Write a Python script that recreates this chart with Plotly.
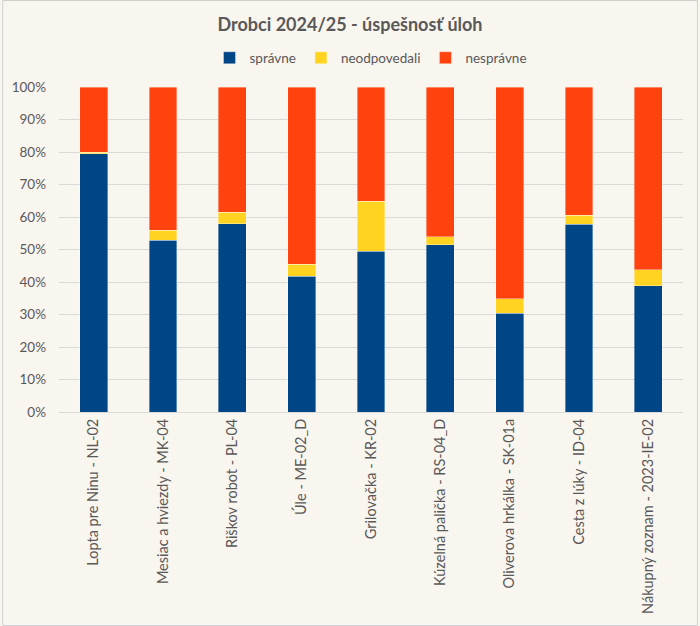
import plotly.graph_objects as go

# data (percent of pupils)
tasks = [
    "Lopta pre Ninu - NL-02",
    "Mesiac a hviezdy - MK-04",
    "Riškov robot - PL-04",
    "Úle - ME-02_D",
    "Grilovačka - KR-02",
    "Kúzelná palička - RS-04_D",
    "Oliverova hrkálka - SK-01a",
    "Cesta z lúky - ID-04",
    "Nákupný zoznam - 2023-IE-02",
]
spravne = [79.4, 52.9, 58.0, 41.8, 49.5, 51.4, 30.4, 57.8, 38.9]
neodpovedali = [0.6, 3.1, 3.5, 3.7, 15.4, 2.5, 4.5, 2.7, 4.8]
nespravne = [20.0, 44.0, 38.5, 54.5, 35.1, 46.1, 65.1, 39.5, 56.3]

series = [
    ("správne", spravne, "#004586"),
    ("neodpovedali", neodpovedali, "#FFD320"),
    ("nesprávne", nespravne, "#FF420E"),
]

W, H = 700, 626
ML, MR, MT, MB = 57, 17, 87, 214
PW, PH = W - ML - MR, H - MT - MB
BG = "#F9F5EF"

fig = go.Figure()
for name, vals, color in series:
    fig.add_trace(go.Bar(
        x=tasks, y=vals, name=name,
        marker=dict(color=color, line=dict(color="rgba(255,255,255,0.45)", width=0.8)),
    ))

fig.update_layout(
    barmode="stack", bargap=0.6,
    width=W, height=H,
    margin=dict(l=ML, r=MR, t=MT, b=MB),
    paper_bgcolor=BG, plot_bgcolor=BG,
    font=dict(family="Lato, Open Sans, sans-serif", size=14, color="#595959"),
    title=dict(text="<b>Drobci 2024/25 - úspešnosť úloh</b>", x=0.5, xanchor="center",
               y=1 - 25 / H, yanchor="middle", font=dict(size=18, color="#595959")),
    legend=dict(orientation="h", x=0.5, xanchor="center", y=1 + 29 / PH, yanchor="middle",
                font=dict(size=13.5, color="#595959"), traceorder="normal",
                itemwidth=30, bgcolor="rgba(0,0,0,0)"),
    showlegend=True,
    shapes=[dict(type="rect", xref="paper", yref="paper",
                 x0=-(ML - 0.5) / PW, x1=1 + (MR - 2.5) / PW,
                 y0=-(MB - 0.5) / PH, y1=1 + (MT - 0.5) / PH,
                 line=dict(color="#D0D0D0", width=1), layer="below")],
)
fig.update_yaxes(range=[0, 100], dtick=10, ticksuffix="%", gridcolor="#D9D9D9",
                 zeroline=False, showline=False, ticks="", fixedrange=True,
                 ticklabelstandoff=12, tickfont=dict(size=13.5, color="#595959"))
fig.update_xaxes(tickangle=-90, showline=True, linecolor="#D9D9D9", ticks="",
                 tickfont=dict(size=14.5, color="#595959"))

fig.write_html("out.html", config={"displayModeBar": False},
               post_script="document.body.style.margin='0';"
                           "document.body.style.background='" + BG + "';")
